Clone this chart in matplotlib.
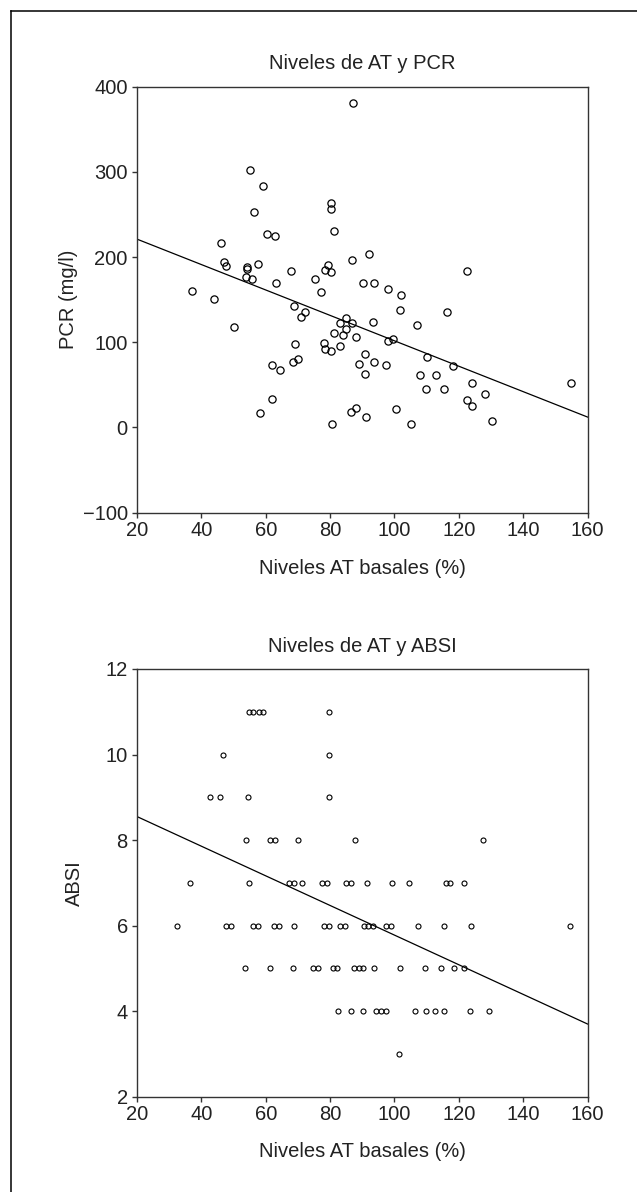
import matplotlib
matplotlib.use("Agg")
import matplotlib.pyplot as plt
from matplotlib.lines import Line2D
import numpy as np

plt.rcParams['font.family'] = ['Liberation Sans', 'DejaVu Sans']

# ---------------- data: top panel (AT vs PCR) ----------------
at_pcr = [87.0, 55.2, 59.3, 56.3, 80.3, 80.3, 81.2, 60.4, 63.0, 46.0,
          86.8, 47.0, 47.7, 54.3, 54.3, 57.6, 53.9, 55.6, 63.2, 68.0,
          79.4, 78.3, 80.3, 75.3, 77.1, 37.1, 43.8, 92.0, 122.4, 90.3,
          93.6, 97.9, 101.9, 50.1, 68.9, 72.1, 71.1, 84.9, 83.1, 86.8,
          85.1, 81.2, 83.9, 88.2, 78.2, 78.3, 80.3, 83.2, 69.1, 70.1,
          68.5, 62.1, 64.3, 88.9, 61.9, 58.3, 80.6, 86.6, 88.2, 101.8,
          116.3, 93.4, 107.0, 98.0, 99.6, 90.9, 93.5, 97.3, 90.7, 110.1,
          118.2, 108.1, 113.0, 109.8, 115.4, 124.2, 128.3, 122.7, 124.2, 155.0,
          130.4, 91.3, 100.4, 105.3]
pcr = [381, 302, 283.5, 253, 264, 256, 230.6, 227, 225, 217,
       196, 194, 189, 188.6, 186, 192, 177, 174, 169, 183,
       190.6, 184.7, 182.4, 174, 159, 160, 150.6, 204, 183.5, 169.4,
       169.4, 162.4, 155, 118, 143, 135, 129, 128.6, 122, 122.7,
       115.3, 110.6, 108.2, 106, 99.6, 92.1, 90.2, 95.3, 97.3, 80,
       76.5, 73.3, 67.8, 74.1, 33.7, 16.9, 3.9, 18.4, 22.7, 137.6,
       136, 124, 119.6, 101, 103.5, 86.7, 77.3, 72.9, 62.4, 82.4,
       72.2, 61.6, 61.6, 45, 45, 51.8, 39.2, 32.5, 25.1, 52.6,
       7.1, 12.1, 21.2, 3.9]
pcr_fit_x = [20, 160]
pcr_fit_y = [221, 12.1]

# ---------------- data: bottom panel (AT vs ABSI) ----------------
at_absi = [54.7, 56.2, 57.8, 59.3, 79.75,
           46.6, 79.75,
           42.7, 45.8, 54.5, 79.75,
           54.0, 61.4, 62.9, 69.9, 87.7, 127.6,
           36.5, 54.8, 67.3, 68.7, 71.4, 77.6, 79.0, 84.8, 86.4, 91.6, 99.3, 104.6, 116.0, 117.3, 121.7,
           32.5, 47.7, 49.1, 56.1, 57.5, 62.6, 64.1, 68.7, 78.2, 79.7, 83.2, 84.7, 90.5, 91.9, 93.4, 97.4, 98.8, 107.4, 115.5, 123.8, 154.6,
           53.6, 61.4, 68.6, 74.7, 76.2, 80.8, 82.3, 87.4, 88.9, 90.3, 93.8, 101.6, 109.5, 114.5, 118.5, 121.6,
           82.5, 86.5, 90.1, 94.3, 95.8, 97.4, 106.4, 109.7, 112.7, 115.5, 123.4, 129.3,
           101.4]
absi = [11] * 5 + [10] * 2 + [9] * 4 + [8] * 6 + [7] * 15 + [6] * 21 + [5] * 16 + [4] * 12 + [3] * 1
absi_fit_x = [20, 160]
absi_fit_y = [8.55, 3.70]

x_ticks = [20, 40, 60, 80, 100, 120, 140, 160]
pcr_ticks = [-100, 0, 100, 200, 300, 400]
absi_ticks = [2, 4, 6, 8, 10, 12]

W, H = 637, 1192
fig = plt.figure(figsize=(W / 100, H / 100), dpi=100)

FS = 14.5
TXT = '#222222'
SP = '#333333'


def style(ax):
    for s in ax.spines.values():
        s.set_color(SP)
        s.set_linewidth(1.0)
    ax.tick_params(axis='both', direction='out', length=3.6, width=1.0,
                   color=SP, labelsize=FS, labelcolor=TXT)
    ax.tick_params(axis='x', pad=2.5)
    ax.tick_params(axis='y', pad=3)
    ax.tick_params(top=False, right=False)


ax1 = fig.add_axes([137 / W, 1 - 512.5 / H, 450.5 / W, (512.5 - 86.7) / H])
ax1.plot(at_pcr, pcr, linestyle='none', marker='o', ms=5.2, mfc='none',
         mec='black', mew=0.9)
ax1.plot(pcr_fit_x, pcr_fit_y, color='black', lw=0.9)
ax1.set_xlim(20, 160)
ax1.set_ylim(-100, 400)
ax1.set_xticks(x_ticks)
ax1.set_yticks(pcr_ticks)
style(ax1)
ax1.set_title('Niveles de AT y PCR', fontsize=FS, color=TXT, pad=13)
ax1.set_xlabel('Niveles AT basales (%)', fontsize=FS, color=TXT, labelpad=14)
ax1.set_ylabel('PCR (mg/l)', fontsize=FS, color=TXT)
ax1.yaxis.set_label_coords((78 - 137) / 450.5, 0.5)

ax2 = fig.add_axes([137 / W, 1 - 1096.7 / H, 450.5 / W, (1096.7 - 669) / H])
ax2.plot(at_absi, absi, linestyle='none', marker='o', ms=3.6, mfc='none',
         mec='black', mew=0.8)
ax2.plot(absi_fit_x, absi_fit_y, color='black', lw=0.9)
ax2.set_xlim(20, 160)
ax2.set_ylim(2, 12)
ax2.set_xticks(x_ticks)
ax2.set_yticks(absi_ticks)
style(ax2)
ax2.set_title('Niveles de AT y ABSI', fontsize=FS, color=TXT, pad=12.5)
ax2.set_xlabel('Niveles AT basales (%)', fontsize=FS, color=TXT, labelpad=13)
ax2.set_ylabel('ABSI', fontsize=FS, color=TXT)
ax2.yaxis.set_label_coords((84 - 137) / 450.5, 0.5)

# outer frame (cropped on right and bottom)
fx = 10.5 / W
fy = 1 - 11 / H
fig.add_artist(Line2D([fx, fx], [0, fy], transform=fig.transFigure,
                      color='black', lw=1.1))
fig.add_artist(Line2D([fx, 1], [fy, fy], transform=fig.transFigure,
                      color='black', lw=1.1))

fig.savefig('out.png', dpi=100, facecolor='white')
